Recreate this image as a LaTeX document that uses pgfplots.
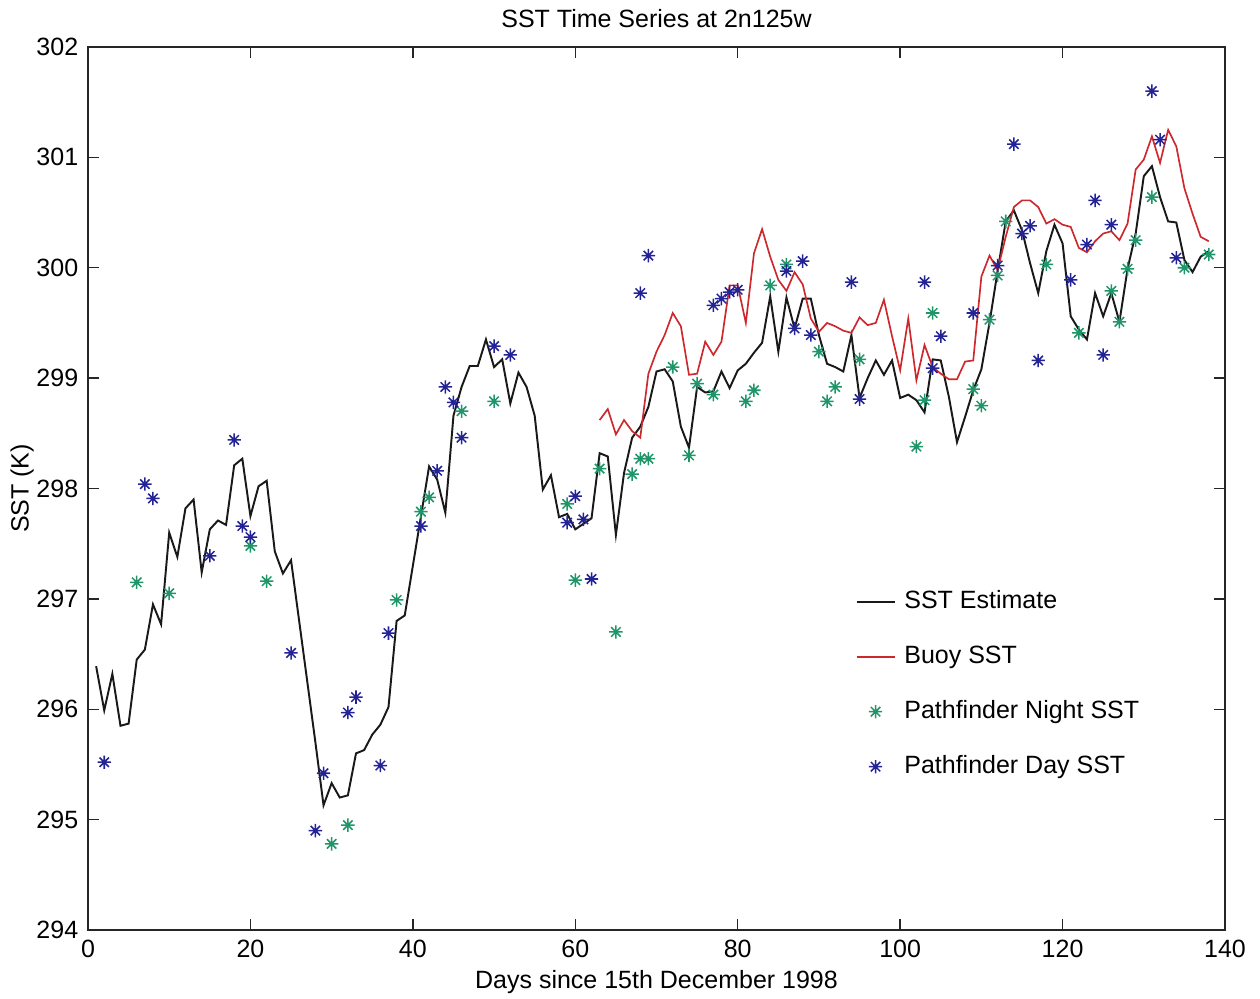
\documentclass[border=0pt]{standalone}
\usepackage{pgfplots}
\pgfplotsset{compat=1.18}
\usepackage{fontspec}
\setmainfont{Liberation Sans}
\definecolor{estc}{RGB}{25,25,25}
\definecolor{buoyc}{RGB}{205,40,45}
\definecolor{nightc}{RGB}{30,150,105}
\definecolor{dayc}{RGB}{35,35,150}
\pgfdeclareplotmark{mstar}{%
  \pgfpathmoveto{\pgfpoint{-\pgfplotmarksize}{0pt}}\pgfpathlineto{\pgfpoint{\pgfplotmarksize}{0pt}}%
  \pgfpathmoveto{\pgfpoint{0pt}{-\pgfplotmarksize}}\pgfpathlineto{\pgfpoint{0pt}{\pgfplotmarksize}}%
  \pgfpathmoveto{\pgfpoint{-0.707\pgfplotmarksize}{-0.707\pgfplotmarksize}}\pgfpathlineto{\pgfpoint{0.707\pgfplotmarksize}{0.707\pgfplotmarksize}}%
  \pgfpathmoveto{\pgfpoint{-0.707\pgfplotmarksize}{0.707\pgfplotmarksize}}\pgfpathlineto{\pgfpoint{0.707\pgfplotmarksize}{-0.707\pgfplotmarksize}}%
  \pgfusepathqstroke}
\begin{document}
\begin{tikzpicture}
\begin{axis}[
  scale only axis, width=409.32pt, height=317.88pt,
  xmin=0, xmax=140, ymin=294, ymax=302,
  xtick={0,20,...,140}, ytick={294,295,...,302},
  tick align=inside, xtick pos=both, ytick pos=both,
  major tick length=4pt,
  axis line style={line width=0.5pt, black!85},
  tick style={line width=0.5pt, black!85},
  /pgf/number format/assume math mode=true,
  /pgf/number format/1000 sep={},
  ticklabel style={font=\fontsize{9}{10}\selectfont},
  label style={font=\fontsize{9}{10}\selectfont},
  xlabel={Days since 15th December 1998},
  ylabel={SST (K)},
  xlabel style={at={(axis description cs:0.5,-0.059)}, anchor=center},
  ylabel style={at={(axis description cs:-0.058,0.5)}, anchor=center},
  legend cell align=left,
  legend style={draw=none, fill=none, at={(rel axis cs:0.6746,0.3866)}, anchor=north west,
    font=\fontsize{9}{10}\selectfont, inner sep=0pt, row sep=10.8pt,
    nodes={inner sep=0pt, text height=7pt, text depth=2pt},
    /tikz/every odd column/.append style={column sep=3.2pt}},
  legend image code/.code={\draw[mark repeat=2,mark phase=2,#1] plot coordinates {(0cm,0cm) (0.24cm,0cm) (0.48cm,0cm)};},
]
\addplot[estc, line width=0.7pt, mark=none] coordinates {
(1,296.39)(2,295.99)(3,296.32)(4,295.85)(5,295.87)(6,296.45)(7,296.54)(8,296.95)(9,296.77)(10,297.60)
(11,297.38)(12,297.82)(13,297.90)(14,297.24)(15,297.63)(16,297.71)(17,297.67)(18,298.21)(19,298.27)(20,297.75)
(21,298.02)(22,298.07)(23,297.43)(24,297.23)(25,297.35)(26,296.80)(27,296.25)(28,295.70)(29,295.13)(30,295.33)
(31,295.20)(32,295.22)(33,295.60)(34,295.63)(35,295.77)(36,295.86)(37,296.02)(38,296.80)(39,296.85)(40,297.30)
(41,297.75)(42,298.20)(43,298.08)(44,297.78)(45,298.66)(46,298.92)(47,299.11)(48,299.11)(49,299.35)(50,299.10)
(51,299.17)(52,298.77)(53,299.05)(54,298.92)(55,298.66)(56,297.99)(57,298.12)(58,297.74)(59,297.77)(60,297.63)
(61,297.68)(62,297.73)(63,298.32)(64,298.29)(65,297.58)(66,298.14)(67,298.46)(68,298.56)(69,298.74)(70,299.06)
(71,299.08)(72,298.97)(73,298.56)(74,298.37)(75,298.92)(76,298.87)(77,298.88)(78,299.06)(79,298.91)(80,299.07)
(81,299.13)(82,299.23)(83,299.32)(84,299.74)(85,299.24)(86,299.73)(87,299.45)(88,299.72)(89,299.72)(90,299.39)
(91,299.13)(92,299.10)(93,299.06)(94,299.39)(95,298.82)(96,299.00)(97,299.16)(98,299.03)(99,299.16)(100,298.82)
(101,298.85)(102,298.80)(103,298.69)(104,299.17)(105,299.16)(106,298.83)(107,298.42)(108,298.65)(109,298.89)(110,299.08)
(111,299.50)(112,299.97)(113,300.42)(114,300.52)(115,300.34)(116,300.04)(117,299.77)(118,300.15)(119,300.39)(120,300.22)
(121,299.56)(122,299.44)(123,299.35)(124,299.77)(125,299.56)(126,299.77)(127,299.51)(128,299.99)(129,300.31)(130,300.83)
(131,300.92)(132,300.64)(133,300.42)(134,300.41)(135,300.07)(136,299.96)(137,300.10)(138,300.15)
};
\addlegendentry{SST Estimate}
\addplot[buoyc, line width=0.6pt, mark=none] coordinates {
(63,298.62)(64,298.72)(65,298.49)(66,298.62)(67,298.52)(68,298.46)(69,299.04)(70,299.24)
(71,299.39)(72,299.59)(73,299.47)(74,299.03)(75,299.04)(76,299.33)(77,299.21)(78,299.33)(79,299.84)(80,299.84)
(81,299.50)(82,300.13)(83,300.35)(84,300.10)(85,299.89)(86,299.79)(87,299.96)(88,299.85)(89,299.54)(90,299.42)
(91,299.50)(92,299.47)(93,299.43)(94,299.41)(95,299.55)(96,299.48)(97,299.50)(98,299.71)(99,299.38)(100,299.07)
(101,299.54)(102,298.98)(103,299.30)(104,299.10)(105,299.04)(106,298.99)(107,298.99)(108,299.15)(109,299.16)(110,299.92)
(111,300.11)(112,299.98)(113,300.28)(114,300.55)(115,300.61)(116,300.61)(117,300.55)(118,300.40)(119,300.44)(120,300.39)
(121,300.37)(122,300.18)(123,300.14)(124,300.24)(125,300.31)(126,300.33)(127,300.25)(128,300.40)(129,300.89)(130,300.98)
(131,301.19)(132,300.95)(133,301.25)(134,301.10)(135,300.72)(136,300.49)(137,300.28)(138,300.24)
};
\addlegendentry{Buoy SST}
\addplot[only marks, mark=mstar, mark size=2.4pt, nightc, mark options={line width=0.55pt}] coordinates {
(6,297.15)(10,297.05)(20,297.48)(22,297.16)(30,294.78)(32,294.95)(38,296.99)(41,297.79)(42,297.92)(46,298.70)
(50,298.79)(59,297.86)(60,297.17)(63,298.18)(65,296.70)(67,298.13)(68,298.27)(69,298.27)(72,299.10)(74,298.30)
(75,298.95)(77,298.85)(81,298.79)(82,298.89)(84,299.84)(86,300.03)(90,299.24)(91,298.79)(92,298.92)(95,299.17)
(102,298.38)(103,298.80)(104,299.59)(109,298.90)(110,298.75)(111,299.53)(112,299.93)(113,300.42)(118,300.03)(122,299.41)
(126,299.79)(127,299.51)(128,299.99)(129,300.25)(131,300.64)(135,300.00)(138,300.12)
};
\addlegendentry{Pathfinder Night SST}
\addplot[only marks, mark=mstar, mark size=2.4pt, dayc, mark options={line width=0.55pt}] coordinates {
(2,295.52)(7,298.04)(8,297.91)(15,297.39)(18,298.44)(19,297.66)(20,297.56)(25,296.51)(28,294.90)(29,295.42)
(32,295.97)(33,296.11)(36,295.49)(37,296.69)(41,297.66)(43,298.16)(44,298.92)(45,298.78)(46,298.46)(50,299.29)
(52,299.21)(59,297.69)(60,297.93)(61,297.72)(62,297.18)(68,299.77)(69,300.11)(77,299.66)(78,299.72)(79,299.78)
(80,299.80)(86,299.97)(87,299.45)(88,300.06)(89,299.39)(94,299.87)(95,298.81)(103,299.87)(104,299.09)(105,299.38)
(109,299.59)(112,300.02)(114,301.12)(115,300.31)(116,300.38)(117,299.16)(121,299.89)(123,300.21)(124,300.61)(125,299.21)
(126,300.39)(131,301.60)(132,301.16)(134,300.09)
};
\addlegendentry{Pathfinder Day SST}
\end{axis}
\node[font=\fontsize{9}{10}\selectfont, anchor=center] at ([yshift=10.4pt]current axis.north) {SST Time Series at 2n125w};
\pgfresetboundingbox
\path[use as bounding box] ([xshift=-31.68pt,yshift=-24.84pt]current axis.south west) rectangle ([xshift=12.6pt,yshift=16.92pt]current axis.north east);
\end{tikzpicture}
\end{document}
